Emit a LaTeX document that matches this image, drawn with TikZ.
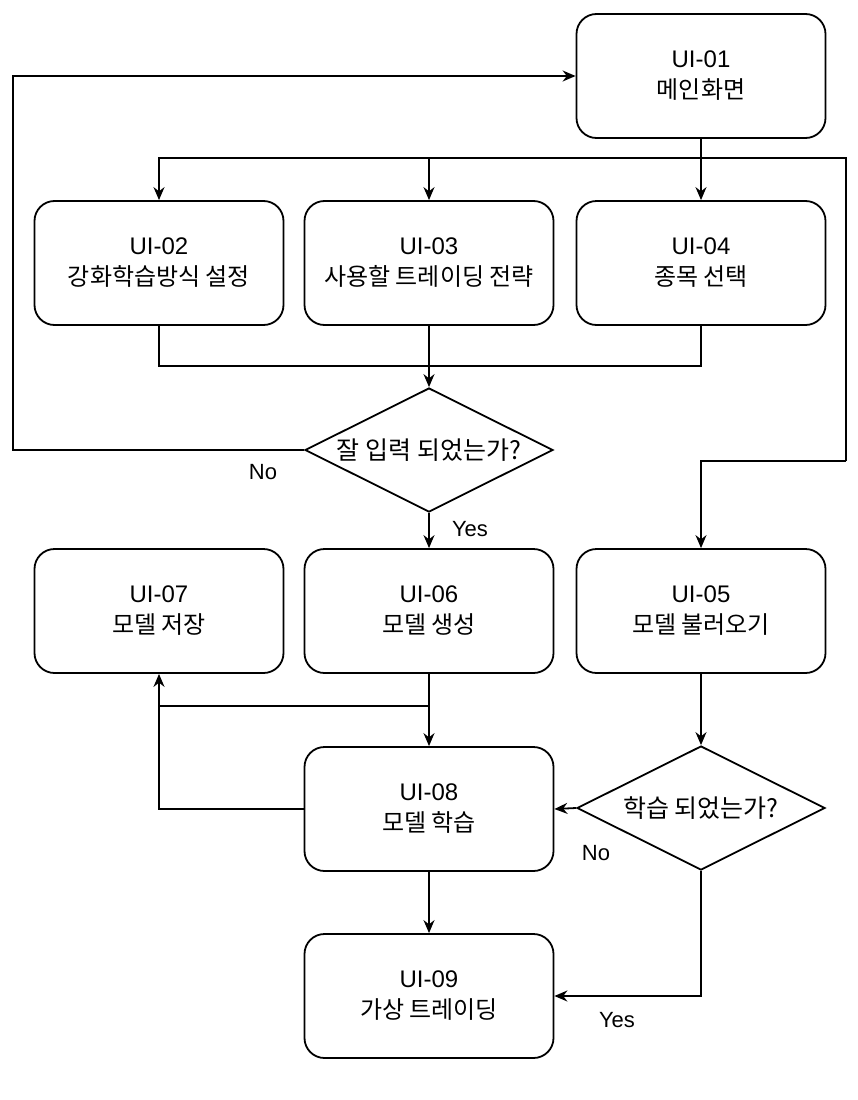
\documentclass[tikz,border=0pt]{standalone}
\usepackage{fontspec}
\setmainfont{Liberation Sans}
\newfontfamily\kr{Noto Sans CJK KR}
\usetikzlibrary{shapes.geometric,arrows.meta}
\begin{document}
\begin{tikzpicture}[x=1pt,y=-1pt,
  box/.style={draw,line width=1.8pt,rounded corners=20pt,minimum width=249pt,minimum height=124pt,inner sep=0pt,align=center,font=\fontsize{24}{31}\selectfont},
  dia/.style={draw,line width=1.8pt,diamond,minimum width=248pt,minimum height=124pt,inner sep=0pt},
  dtext/.style={font=\kr\fontsize{25}{30}\selectfont},
  lbl/.style={font=\fontsize{22}{26}\selectfont},
  arr/.style={line width=1.8pt,-{Stealth[length=13pt,width=11pt]}},
  ln/.style={line width=1.8pt}]
\useasboundingbox (0,0) rectangle (858,1100);
\node[box] (u1) at (701,76) {UI-01\\{\kr 메인화면}};
\node[box] (u2) at (159,263) {UI-02\\{\kr 강화학습방식 설정}};
\node[box] (u3) at (429,263) {UI-03\\{\kr 사용할 트레이딩 전략}};
\node[box] (u4) at (701,263) {UI-04\\{\kr 종목 선택}};
\node[dia] (d1) at (429,450) {};
\node[dtext] (t1) at (d1) {잘 입력 되었는가?};
\node[box] (u7) at (159,611) {UI-07\\{\kr 모델 저장}};
\node[box] (u6) at (429,611) {UI-06\\{\kr 모델 생성}};
\node[box] (u5) at (701,611) {UI-05\\{\kr 모델 불러오기}};
\node[box] (u8) at (429,809) {UI-08\\{\kr 모델 학습}};
\node[dia] (d2) at (701,808) {};
\node[dtext] (t2) at (d2) {학습 되었는가?};
\node[box] (u9) at (429,996) {UI-09\\{\kr 가상 트레이딩}};
\coordinate (j1) at (701,158);
\coordinate (r1) at (846,158);
\coordinate (r2) at (846,461);
\coordinate (m1) at (429,366);
\coordinate (l1) at (13,450);
\coordinate (j2) at (429,706);
% from UI-01
\draw[arr] (u1.south) -- (u4.north);
\draw[arr] (j1) -| (u2.north);
\draw[arr] (j1) -| (u3.north);
\draw[ln] (j1) -- (r1) -- (r2);
\draw[arr] (r2) -| (u5.north);
% into decision 1
\draw[ln] (u2.south) |- (m1);
\draw[ln] (u4.south) |- (m1);
\draw[arr] (u3.south) -- (d1.north);
\draw[arr] (d1.west) -- (l1) |- (u1.west);
\draw[arr] (d1.south) -- (u6.north);
\node[lbl] at (263,472) {No};
\node[lbl] at (470,529) {Yes};
% lower part
\draw[arr] (u6.south) -- (u8.north);
\draw[ln] (j2) -| (159,690);
\draw[arr] (u8.west) -| (u7.south);
\draw[arr] (u5.south) -- (d2.north);
\draw[arr] (d2.west) -- (u8.east);
\draw[arr] (d2.south) |- (u9.east);
\draw[arr] (u8.south) -- (u9.north);
\node[lbl] at (596,853) {No};
\node[lbl] at (617,1020) {Yes};
\end{tikzpicture}
\end{document}
